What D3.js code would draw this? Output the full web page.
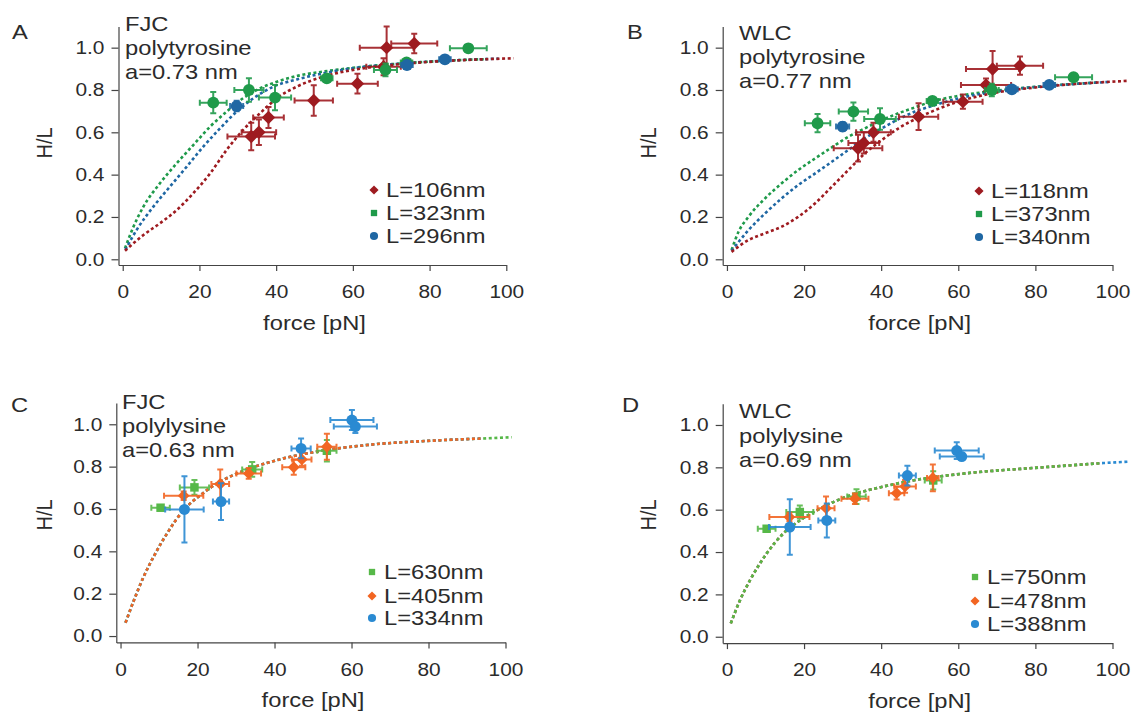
<!DOCTYPE html>
<html>
<head>
<meta charset="utf-8">
<script src="https://cdn.jsdelivr.net/npm/d3@7"></script>
<style>
  html, body { margin: 0; padding: 0; background: #fff; }
  svg { display: block; }
  text { font-family: "Liberation Sans", Arial, Helvetica, sans-serif; fill: #2b2b2b; }
</style>
</head>
<body>
<svg id="fig" width="1139" height="713"></svg>
<script>
// ---- axis ticks ----
const forceTicks = [0, 20, 40, 60, 80, 100];
const hlTicks = [0, 0.2, 0.4, 0.6, 0.8, 1.0];

// ---- panel A: FJC, polytyrosine (a = 0.73 nm) ----  [force, H/L, force err, H/L err]
const aL106 = [[33.5,0.58,6.2,0.065],[35.5,0.60,4.5,0.06],[38.0,0.67,4.0,0.05],[49.8,0.75,5.0,0.072],
               [61.2,0.83,5.3,0.047],[68.0,0.91,4.5,0.04],[68.8,1.00,7.0,0.10],[76.0,1.02,6.0,0.046]];
const aL323 = [[23.6,0.74,3.5,0.05],[32.9,0.80,3.8,0.055],[39.7,0.764,4.2,0.06],[53.2,0.855,1.5,0.015],
               [68.5,0.895,3.0,0.03],[74.0,0.93,1.5,0.012],[90.1,0.997,4.8,0.01]];
const aL296 = [[29.7,0.724,1.7,0.025],[74.1,0.918,1.5,0.012],[84.0,0.945,1.5,0.01]];
const aFit106 = [[0.6,0.04],[5.4,0.115],[9.7,0.170],[14.1,0.233],[18.4,0.312],[22.8,0.406],[27.1,0.517],
                 [31.4,0.611],[35.8,0.690],[40.2,0.761],[45.4,0.816],[52.3,0.863],[60.1,0.895],[70,0.918],
                 [80,0.933],[90,0.942],[101.9,0.950]];
const aFit323 = [[0.6,0.052],[2.8,0.154],[5.4,0.249],[9.7,0.359],[14.1,0.454],[18.4,0.540],[22.8,0.627],
                 [27.1,0.698],[31.4,0.761],[35.8,0.808],[40.2,0.839],[45.4,0.866],[52.3,0.887],[60.1,0.905],
                 [70,0.922],[80,0.934],[90,0.943],[95,0.946]];
const aFit296 = [[0.7,0.045],[3.6,0.138],[8.0,0.249],[12.3,0.343],[16.7,0.438],[21.0,0.532],[25.4,0.619],
                 [29.7,0.698],[34.1,0.761],[39.3,0.816],[45.4,0.850],[52.3,0.879],[60.1,0.903],[70,0.921],
                 [80,0.934],[90,0.943],[98,0.948]];

// ---- panel B: WLC, polytyrosine (a = 0.77 nm) ----
const bL118 = [[34.0,0.525,6.3,0.063],[35.5,0.55,4.0,0.05],[38.0,0.60,4.5,0.045],[49.7,0.674,5.1,0.063],
               [61.2,0.745,5.1,0.034],[67.2,0.824,6.5,0.03],[68.9,0.899,6.9,0.085],[76.0,0.915,6.0,0.043]];
const bL373 = [[23.5,0.643,3.3,0.043],[32.8,0.698,3.8,0.043],[39.7,0.663,4.1,0.051],[53.3,0.748,1.5,0.012],
               [68.7,0.800,1.8,0.03],[89.9,0.860,4.8,0.012]];
const bL340 = [[30.0,0.627,1.7,0.02],[73.9,0.803,1.5,0.012],[83.6,0.824,1.5,0.01]];
const bFit118 = [[1.2,0.035],[5.6,0.091],[9.9,0.123],[14.2,0.154],[18.5,0.201],[22.9,0.265],[27.2,0.343],
                 [31.5,0.422],[35.8,0.501],[40.2,0.564],[44.5,0.619],[48.8,0.662],[53.1,0.698],[60,0.745],
                 [70,0.788],[80,0.812],[90,0.828],[103.7,0.843]];
const bFit373 = [[1.2,0.044],[3.0,0.130],[5.6,0.201],[9.9,0.288],[14.2,0.359],[18.5,0.422],[22.9,0.477],
                 [27.2,0.529],[31.5,0.579],[35.8,0.619],[40.2,0.658],[44.5,0.690],[48.8,0.718],[53.1,0.745],
                 [60,0.772],[70,0.797],[80,0.815],[90,0.829],[96,0.835]];
const bFit340 = [[1.2,0.04],[5.6,0.138],[9.9,0.217],[14.2,0.288],[18.5,0.351],[22.9,0.406],[27.2,0.461],
                 [31.5,0.517],[35.8,0.572],[40.2,0.619],[44.5,0.662],[48.8,0.698],[53.1,0.724],[60,0.76],
                 [70,0.793],[80,0.814],[90,0.828],[99,0.838]];

// ---- panel C: FJC, polylysine (a = 0.63 nm) ----
const cL630 = [[10.4,0.606,2.4,0.012],[19.2,0.702,3.8,0.035],[34.2,0.787,2.6,0.035],[53.6,0.875,2.5,0.051]];
const cL405 = [[16.4,0.663,5.1,0.02],[25.9,0.718,2.3,0.068],[33.3,0.768,3.2,0.025],[45.0,0.797,3.0,0.035],
               [47.1,0.834,2.5,0.03],[53.6,0.894,2.5,0.061]];
const cL334 = [[16.6,0.598,5.0,0.156],[26.1,0.635,2.1,0.087],[46.9,0.886,2.5,0.047],[60.1,1.020,5.6,0.047],
               [61.0,0.989,5.6,0.03]];
const cFit = [[1.3,0.063],[3.5,0.170],[6.0,0.280],[8.6,0.375],[12.1,0.485],[16.4,0.595],[20.8,0.666],
              [25.1,0.721],[29.4,0.761],[33.7,0.792],[42.4,0.839],[51.0,0.871],[64.0,0.902],[81.3,0.923],
              [94.2,0.933],[101.6,0.939]];

// ---- panel D: WLC, polylysine (a = 0.69 nm) ----
const dL750 = [[10.3,0.510,2.3,0.012],[18.9,0.589,3.5,0.031],[33.6,0.662,2.4,0.035],[53.5,0.738,2.2,0.043]];
const dL478 = [[16.2,0.565,5.2,0.02],[25.7,0.607,2.2,0.055],[33.2,0.652,3.5,0.025],[44.0,0.678,2.0,0.03],
               [46.2,0.710,2.8,0.03],[53.4,0.750,1.5,0.063]];
const dL388 = [[16.3,0.518,5.4,0.131],[25.9,0.549,2.2,0.08],[46.8,0.761,2.2,0.047],[59.6,0.879,5.7,0.04],
               [60.9,0.851,5.7,0.015]];
const dFit = [[1.0,0.063],[3.4,0.173],[6.0,0.267],[10.3,0.393],[14.6,0.487],[18.9,0.549],[23.3,0.597],
              [27.6,0.636],[31.9,0.667],[40.5,0.709],[49.2,0.741],[62.2,0.772],[79.5,0.797],[88.0,0.808],
              [96.6,0.819],[104.5,0.827]];

// ---- colours ----
const tyrRed = "#9e1b20", tyrGreen = "#1f9a4a", tyrBlue = "#1f67a3";
const lysGreen = "#56b848", lysOrange = "#f26522", lysBlue = "#2a8ad2";

const panels = [
  { letter: "A", model: "FJC", polymer: "polytyrosine", a: "a=0.73 nm",
    xr: [118.5, 506.3], yr: [265, 26.5], yd: [-0.027, 1.1],
    letterPos: [12, 39], textX: 125, textY: [31, 55, 79], ylabX: 52, ylabY: 143,
    legX: 374, legY: [197, 220, 243],
    series: [
      { name: "L=106nm", data: aL106, fit: aFit106, color: tyrRed, shape: "diamond", leg: "diamond" },
      { name: "L=323nm", data: aL323, fit: aFit323, color: tyrGreen, shape: "circle", leg: "square" },
      { name: "L=296nm", data: aL296, fit: aFit296, color: tyrBlue, shape: "circle", leg: "circle" } ],
    fitOrder: [1, 2, 0] },
  { letter: "B", model: "WLC", polymer: "polytyrosine", a: "a=0.77 nm",
    xr: [722.7, 1112.5], yr: [265, 26.5], yd: [-0.027, 1.1],
    letterPos: [627, 39], textX: 739, textY: [40, 64, 88], ylabX: 656, ylabY: 143,
    legX: 979, legY: [198, 221, 244],
    series: [
      { name: "L=118nm", data: bL118, fit: bFit118, color: tyrRed, shape: "diamond", leg: "diamond" },
      { name: "L=373nm", data: bL373, fit: bFit373, color: tyrGreen, shape: "circle", leg: "square" },
      { name: "L=340nm", data: bL340, fit: bFit340, color: tyrBlue, shape: "circle", leg: "circle" } ],
    fitOrder: [1, 2, 0] },
  { letter: "C", model: "FJC", polymer: "polylysine", a: "a=0.63 nm",
    xr: [116.3, 505.5], yr: [642.4, 403.1], yd: [-0.03, 1.1],
    letterPos: [11, 412], textX: 122, textY: [409, 433, 457], ylabX: 52, ylabY: 515,
    legX: 372, legY: [579, 603, 625],
    series: [
      { name: "L=630nm", data: cL630, fit: cFit, color: lysGreen, shape: "square", leg: "square" },
      { name: "L=405nm", data: cL405, fit: cFit.filter(d => d[0] < 98), color: lysOrange, shape: "diamond", leg: "diamond" },
      { name: "L=334nm", data: cL334, fit: cFit.filter(d => d[0] < 98), color: lysBlue, shape: "circle", leg: "circle" } ],
    fitOrder: [0, 2, 1] },
  { letter: "D", model: "WLC", polymer: "polylysine", a: "a=0.69 nm",
    xr: [722.7, 1112.5], yr: [643.1, 403.8], yd: [-0.03, 1.1],
    letterPos: [622, 412], textX: 739, textY: [418, 443, 467], ylabX: 656, ylabY: 515,
    legX: 975, legY: [584, 608, 631],
    series: [
      { name: "L=750nm", data: dL750, fit: dFit.filter(d => d[0] < 98), color: lysGreen, shape: "square", leg: "square" },
      { name: "L=478nm", data: dL478, fit: dFit.filter(d => d[0] < 98), color: lysOrange, shape: "diamond", leg: "diamond" },
      { name: "L=388nm", data: dL388, fit: dFit, color: lysBlue, shape: "circle", leg: "circle" } ],
    fitOrder: [2, 1, 0] }
];

// the figure's lettering is set slightly wide
const SX = 1.13;
const svg = d3.select("#fig");

function label(g, x, y, str, size, anchor) {
  return g.append("text")
    .attr("transform", `translate(${x},${y}) scale(${SX},1)`)
    .attr("text-anchor", anchor || "start")
    .attr("font-size", size)
    .text(str);
}

// diamonds are drawn as squares turned by 45 degrees
function marker(sel, shape, size) {
  const type = shape === "circle" ? d3.symbolCircle : d3.symbolSquare;
  return sel.attr("d", d3.symbol().type(type).size(size));
}

panels.forEach(p => {
  const x = d3.scaleLinear().domain([-1.1, 100]).range(p.xr);
  const y = d3.scaleLinear().domain(p.yd).range(p.yr);
  const g = svg.append("g");

  // axes
  const xAxis = d3.axisBottom(x).tickValues(forceTicks).tickSize(6).tickSizeOuter(0).tickPadding(14)
    .tickFormat(d3.format("d"));
  const yAxis = d3.axisLeft(y).tickValues(hlTicks).tickSize(7).tickSizeOuter(0)
    .tickFormat(d3.format(".1f"));
  const gx = g.append("g").attr("transform", `translate(0,${p.yr[0]})`).call(xAxis);
  const gy = g.append("g").attr("transform", `translate(${p.xr[0]},0)`).call(yAxis);
  [gx, gy].forEach(ax => {
    ax.selectAll("path, line").attr("stroke", "#444").attr("stroke-width", 1.2);
    ax.selectAll("text").attr("font-size", 18.5).attr("fill", "#2b2b2b")
      .style("font-family", '"Liberation Sans", Arial, sans-serif');
  });
  gx.selectAll("text").attr("transform", `scale(${SX},1)`);
  gy.selectAll("text").attr("x", 0).attr("transform", `translate(-14,0) scale(${SX},1)`);

  // axis titles
  label(g, (x(0) + x(100)) / 2, p.yr[0] + 65, "force [pN]", 21, "middle");
  g.append("text").attr("transform", `translate(${p.ylabX},${p.ylabY}) rotate(-90) scale(1,${SX})`)
    .attr("text-anchor", "middle").attr("font-size", 20).text("H/L");

  // panel letter and model annotation
  label(g, p.letterPos[0], p.letterPos[1], p.letter, 21);
  [p.model, p.polymer, p.a].forEach((t, i) => label(g, p.textX, p.textY[i], t, 21));

  // model curves (dotted)
  const line = d3.line().x(d => x(d[0])).y(d => y(d[1])).curve(d3.curveMonotoneX);
  p.fitOrder.forEach(i => {
    const s = p.series[i];
    g.append("path").datum(s.fit).attr("d", line).attr("fill", "none")
      .attr("stroke", s.color).attr("stroke-width", 2.6).attr("stroke-dasharray", "3,2.6");
  });

  // error bars and markers
  const cap = 3;
  const big = p.letter === "A" || p.letter === "B";
  p.series.forEach(s => {
    const sg = g.append("g");
    const pts = sg.selectAll("g.pt").data(s.data).join("g").attr("class", "pt");
    pts.append("path").attr("fill", "none").attr("stroke", s.color).attr("stroke-width", 2)
      .attr("stroke-opacity", 0.9)
      .attr("d", d => {
        const cx = x(d[0]), cy = y(d[1]);
        const x1 = x(d[0] - d[2]), x2 = x(d[0] + d[2]);
        const y1 = y(d[1] - d[3]), y2 = y(d[1] + d[3]);
        return `M${x1},${cy}H${x2}M${x1},${cy - cap}V${cy + cap}M${x2},${cy - cap}V${cy + cap}` +
               `M${cx},${y1}V${y2}M${cx - cap},${y1}H${cx + cap}M${cx - cap},${y2}H${cx + cap}`;
      });
    const size = s.shape === "diamond" ? (big ? 90 : 70)
               : s.shape === "square" ? 72
               : (big ? 110 : 95);
    marker(pts.append("path"), s.shape, size).attr("fill", s.color)
      .attr("transform", d => `translate(${x(d[0])},${y(d[1])})` + (s.shape === "diamond" ? " rotate(45)" : ""));
  });

  // legend
  p.series.forEach((s, i) => {
    const ly = p.legY[i];
    const lsize = s.leg === "diamond" ? 42 : (s.leg === "square" ? 40 : 52);
    marker(g.append("path"), s.leg, lsize).attr("fill", s.color)
      .attr("transform", `translate(${p.legX},${ly - 7})` + (s.leg === "diamond" ? " rotate(45)" : ""));
    label(g, p.legX + 12, ly, s.name, 21);
  });
});
</script>
</body>
</html>
